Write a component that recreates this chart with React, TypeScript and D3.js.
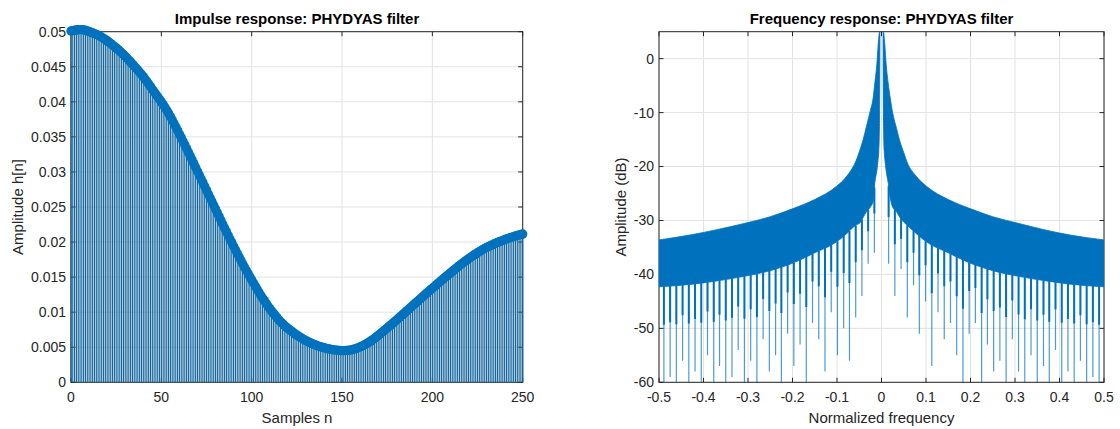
import React from "react";
import * as d3 from "d3";

// ---------- Impulse response data (samples n = 0..250) ----------
const impulse: number[] = [
  0.05010, 0.05015, 0.05020, 0.05025, 0.05028, 0.05030, 0.05029, 0.05026, 0.05020, 0.05011, 0.05002,
  0.04993, 0.04983, 0.04973, 0.04962, 0.04950, 0.04936, 0.04921, 0.04905, 0.04888, 0.04870,
  0.04851, 0.04831, 0.04811, 0.04790, 0.04770, 0.04747, 0.04724, 0.04700, 0.04676, 0.04650,
  0.04623, 0.04595, 0.04567, 0.04539, 0.04510, 0.04481, 0.04451, 0.04421, 0.04391, 0.04360,
  0.04325, 0.04290, 0.04254, 0.04218, 0.04180, 0.04144, 0.04108, 0.04072, 0.04036, 0.04000,
  0.03960, 0.03920, 0.03880, 0.03836, 0.03790, 0.03742, 0.03693, 0.03643, 0.03592, 0.03540,
  0.03489, 0.03437, 0.03385, 0.03333, 0.03280, 0.03226, 0.03172, 0.03118, 0.03064, 0.03010,
  0.02956, 0.02902, 0.02848, 0.02794, 0.02740, 0.02686, 0.02632, 0.02578, 0.02524, 0.02470,
  0.02416, 0.02362, 0.02308, 0.02254, 0.02200, 0.02148, 0.02096, 0.02044, 0.01992, 0.01940,
  0.01890, 0.01840, 0.01790, 0.01740, 0.01690, 0.01644, 0.01598, 0.01552, 0.01506, 0.01460,
  0.01416, 0.01372, 0.01328, 0.01284, 0.01240, 0.01202, 0.01164, 0.01126, 0.01088, 0.01050,
  0.01018, 0.00986, 0.00954, 0.00922, 0.00890, 0.00864, 0.00838, 0.00814, 0.00791, 0.00769,
  0.00749, 0.00729, 0.00710, 0.00691, 0.00673, 0.00656, 0.00640, 0.00624, 0.00609, 0.00595,
  0.00582, 0.00569, 0.00557, 0.00546, 0.00535, 0.00525, 0.00516, 0.00508, 0.00500, 0.00493,
  0.00486, 0.00480, 0.00474, 0.00469, 0.00465, 0.00461, 0.00458, 0.00455, 0.00453, 0.00452,
  0.00452, 0.00453, 0.00455, 0.00458, 0.00462, 0.00468, 0.00475, 0.00483, 0.00492, 0.00503,
  0.00515, 0.00528, 0.00542, 0.00557, 0.00573, 0.00590, 0.00608, 0.00627, 0.00647, 0.00668,
  0.00689, 0.00710, 0.00731, 0.00753, 0.00775, 0.00797, 0.00819, 0.00841, 0.00863, 0.00885,
  0.00907, 0.00930, 0.00953, 0.00976, 0.00999, 0.01022, 0.01045, 0.01068, 0.01091, 0.01114,
  0.01137, 0.01160, 0.01183, 0.01206, 0.01229, 0.01252, 0.01275, 0.01298, 0.01320, 0.01342,
  0.01363, 0.01386, 0.01409, 0.01431, 0.01453, 0.01475, 0.01497, 0.01518, 0.01539, 0.01560,
  0.01582, 0.01603, 0.01624, 0.01645, 0.01665, 0.01685, 0.01705, 0.01724, 0.01743, 0.01762,
  0.01780, 0.01798, 0.01815, 0.01832, 0.01848, 0.01864, 0.01879, 0.01894, 0.01908, 0.01922,
  0.01935, 0.01948, 0.01960, 0.01972, 0.01983, 0.01994, 0.02004, 0.02014, 0.02024, 0.02034,
  0.02044, 0.02053, 0.02062, 0.02070, 0.02078, 0.02086, 0.02093, 0.02100, 0.02107, 0.02114,
];
const impXTicks = [0, 50, 100, 150, 200, 250];
const impYTicks = [0, 0.005, 0.01, 0.015, 0.02, 0.025, 0.03, 0.035, 0.04, 0.045, 0.05];
const impYTickLabels = ["0", "0.005", "0.01", "0.015", "0.02", "0.025", "0.03", "0.035", "0.04", "0.045", "0.05"];

// ---------- Frequency response data (dB) ----------
const envFreqLeft = [-0.5, -0.424, -0.37, -0.311, -0.25, -0.199, -0.15, -0.1016, -0.0791, -0.0566, -0.048, -0.0416, -0.034, -0.025, -0.019, -0.015, -0.01, -0.008, -0.006, -0.0045, -0.0035];
const envUpperLeft = [-33.6, -32.6, -31.7, -30.6, -29.3, -27.8, -26.1, -23.7, -21.9, -18.8, -16.8, -15.1, -12.6, -9.6, -7.4, -4.5, -0.5, 2, 4, 5, 5];
const envLowerLeft = [-42.3, -41.8, -41.2, -40.4, -39.3, -37.9, -36, -34, -32.5, -30.8, -30.4, -29.5, -28.4, -27.5, -26.5, -23, -20.5, -19, -17, -12, 5];

const envFreqRight = [0.0035, 0.0045, 0.006, 0.008, 0.01, 0.015, 0.02, 0.025, 0.034, 0.0416, 0.05, 0.0566, 0.0791, 0.1016, 0.15, 0.199, 0.25, 0.311, 0.37, 0.424, 0.5];
const envUpperRight = [5, 5, 4, 2, -0.5, -4.5, -7.5, -10, -13, -15.4, -17.4, -19, -21.9, -23.7, -26.1, -27.8, -29.3, -30.6, -31.8, -32.7, -33.6];
const envLowerRight = [5, -12, -17, -19, -20.5, -23, -26, -27.5, -28.4, -29.5, -30.3, -30.8, -32.5, -34, -36, -37.9, -39.3, -40.4, -41.2, -41.8, -42.3];

const nullFreqRight = [0.016, 0.030, 0.044, 0.058, 0.072, 0.085, 0.099, 0.113, 0.127, 0.141, 0.155, 0.169, 0.183, 0.197, 0.211, 0.225, 0.238, 0.252, 0.266, 0.280, 0.294, 0.308, 0.322, 0.336, 0.350, 0.364, 0.377, 0.391, 0.405, 0.419, 0.433, 0.447, 0.461, 0.475, 0.489];
const nullDepthRight = [-38, -44, -39, -48, -42, -51, -45, -57, -47, -52, -49, -55, -60, -51, -49, -60, -53, -58, -56, -60, -52, -58, -60, -55, -60, -57, -60, -54, -60, -58, -60, -56, -60, -59, -60];
const nullFreqLeft = [-0.016, -0.030, -0.044, -0.058, -0.072, -0.085, -0.099, -0.113, -0.127, -0.141, -0.155, -0.169, -0.183, -0.197, -0.211, -0.225, -0.238, -0.252, -0.266, -0.280, -0.294, -0.308, -0.322, -0.336, -0.350, -0.364, -0.377, -0.391, -0.405, -0.419, -0.433, -0.447, -0.461, -0.475, -0.489];
const nullDepthLeft = [-36, -38, -44, -48, -56, -50, -55, -47, -58, -52, -49, -60, -53, -57, -51, -60, -55, -58, -52, -60, -56, -60, -54, -59, -60, -57, -60, -55, -60, -58, -60, -56, -60, -59, -60];

const frqXTicks = [-0.5, -0.4, -0.3, -0.2, -0.1, 0, 0.1, 0.2, 0.3, 0.4, 0.5];
const frqXTickLabels = ["-0.5", "-0.4", "-0.3", "-0.2", "-0.1", "0", "0.1", "0.2", "0.3", "0.4", "0.5"];
const frqYTicks = [-60, -50, -40, -30, -20, -10, 0];

const BLUE = "#0072BD";
const STEM = "#16679d";
const AX = "#262626";
const GRID = "#e3e3e3";
const FONT = "'Liberation Sans', Arial, Helvetica, sans-serif";

export default function App() {
  // Left panel
  const lx = d3.scaleLinear().domain([0, 250]).range([71, 522.7]);
  const ly = d3.scaleLinear().domain([0, 0.05]).range([382.3, 31.7]);
  // Right panel
  const rx = d3.scaleLinear().domain([-0.5, 0.5]).range([659, 1104]);
  const ry = d3.scaleLinear().domain([-60, 5]).range([382.3, 31.7]);

  const leftArea = d3
    .area<number>()
    .x((_, i) => rx(envFreqLeft[i]))
    .y0((_, i) => ry(envLowerLeft[i]))
    .y1((_, i) => ry(envUpperLeft[i]))
    .curve(d3.curveMonotoneX)(envFreqLeft);
  const rightArea = d3
    .area<number>()
    .x((_, i) => rx(envFreqRight[i]))
    .y0((_, i) => ry(envLowerRight[i]))
    .y1((_, i) => ry(envUpperRight[i]))
    .curve(d3.curveMonotoneX)(envFreqRight);

  const lowerL = d3.scaleLinear().domain(envFreqLeft).range(envLowerLeft);
  const lowerR = d3.scaleLinear().domain(envFreqRight).range(envLowerRight);

  const spikes = [
    ...nullFreqLeft.map((f, i) => ({ f, d: nullDepthLeft[i], top: lowerL(f) })),
    ...nullFreqRight.map((f, i) => ({ f, d: nullDepthRight[i], top: lowerR(f) })),
  ];

  const textStyle = { fontFamily: FONT, fill: AX } as const;

  return (
    <svg
      width={1120}
      height={429}
      style={{ position: "absolute", left: 0, top: 0, background: "#fff" }}
    >
      <rect x={0} y={0} width={1120} height={429} fill="#fff" />
      <defs>
        <clipPath id="clipR">
          <rect x={659} y={31.7} width={445} height={350.6} />
        </clipPath>
      </defs>

      {/* ===== Left panel ===== */}
      <g>
        {impXTicks.map((t) => (
          <line key={"lgx" + t} x1={lx(t)} x2={lx(t)} y1={31.7} y2={382.3} stroke={GRID} strokeWidth={1} />
        ))}
        {impYTicks.map((t) => (
          <line key={"lgy" + t} x1={71} x2={522.7} y1={ly(t)} y2={ly(t)} stroke={GRID} strokeWidth={1} />
        ))}
        <rect x={71} y={31.7} width={451.7} height={350.6} fill="none" stroke={AX} strokeWidth={1} />
        {impXTicks.map((t) => (
          <g key={"ltx" + t}>
            <line x1={lx(t)} x2={lx(t)} y1={382.3} y2={377.8} stroke={AX} />
            <line x1={lx(t)} x2={lx(t)} y1={31.7} y2={36.2} stroke={AX} />
          </g>
        ))}
        {impYTicks.map((t) => (
          <g key={"lty" + t}>
            <line x1={71} x2={75.5} y1={ly(t)} y2={ly(t)} stroke={AX} />
            <line x1={522.7} x2={518.2} y1={ly(t)} y2={ly(t)} stroke={AX} />
          </g>
        ))}
        {impulse.map((v, i) => (
          <line key={"st" + i} x1={lx(i)} x2={lx(i)} y1={ly(0)} y2={ly(v)} stroke={STEM} strokeWidth={1.2} />
        ))}
        {impulse.map((v, i) => (
          <circle key={"mk" + i} cx={lx(i)} cy={ly(v)} r={4.7} fill={BLUE} />
        ))}
        {impXTicks.map((t) => (
          <text key={"lxl" + t} x={lx(t)} y={402} textAnchor="middle" fontSize={14} style={textStyle}>
            {t}
          </text>
        ))}
        {impYTicks.map((t, i) => (
          <text key={"lyl" + t} x={66} y={ly(t)} dy="0.35em" textAnchor="end" fontSize={14} style={textStyle}>
            {impYTickLabels[i]}
          </text>
        ))}
        <text x={297} y={24} textAnchor="middle" fontSize={15} fontWeight="bold" style={{ fontFamily: FONT, fill: "#000" }}>
          Impulse response: PHYDYAS filter
        </text>
        <text x={297} y={423} textAnchor="middle" fontSize={15} style={textStyle}>
          Samples n
        </text>
        <text transform="translate(23,207) rotate(-90)" textAnchor="middle" fontSize={15} style={textStyle}>
          Amplitude h[n]
        </text>
      </g>

      {/* ===== Right panel ===== */}
      <g>
        {frqXTicks.map((t) => (
          <line key={"rgx" + t} x1={rx(t)} x2={rx(t)} y1={31.7} y2={382.3} stroke={GRID} strokeWidth={1} />
        ))}
        {frqYTicks.map((t) => (
          <line key={"rgy" + t} x1={659} x2={1104} y1={ry(t)} y2={ry(t)} stroke={GRID} strokeWidth={1} />
        ))}
        <rect x={659} y={31.7} width={445} height={350.6} fill="none" stroke={AX} strokeWidth={1} />
        {frqXTicks.map((t) => (
          <g key={"rtx" + t}>
            <line x1={rx(t)} x2={rx(t)} y1={382.3} y2={377.8} stroke={AX} />
            <line x1={rx(t)} x2={rx(t)} y1={31.7} y2={36.2} stroke={AX} />
          </g>
        ))}
        {frqYTicks.map((t) => (
          <g key={"rty" + t}>
            <line x1={659} x2={663.5} y1={ry(t)} y2={ry(t)} stroke={AX} />
            <line x1={1104} x2={1099.5} y1={ry(t)} y2={ry(t)} stroke={AX} />
          </g>
        ))}
        <g clipPath="url(#clipR)">
          <path d={leftArea ?? ""} fill={BLUE} stroke={BLUE} strokeWidth={0.8} />
          <path d={rightArea ?? ""} fill={BLUE} stroke={BLUE} strokeWidth={0.8} />
          {spikes.map((s, i) => (
            <g key={"sp" + i}>
              <line x1={rx(s.f)} x2={rx(s.f)} y1={ry(s.top)} y2={ry(s.d)} stroke={BLUE} strokeOpacity={0.7} strokeWidth={1.2} />
              <line x1={rx(s.f)} x2={rx(s.f)} y1={ry(s.top)} y2={ry(s.top - (s.top - s.d) * 0.4)} stroke={BLUE} strokeWidth={2} />
            </g>
          ))}
        </g>
        {frqXTicks.map((t, i) => (
          <text key={"rxl" + t} x={rx(t)} y={402} textAnchor="middle" fontSize={14} style={textStyle}>
            {frqXTickLabels[i]}
          </text>
        ))}
        {frqYTicks.map((t) => (
          <text key={"ryl" + t} x={654} y={ry(t)} dy="0.35em" textAnchor="end" fontSize={14} style={textStyle}>
            {t}
          </text>
        ))}
        <text x={881.5} y={24} textAnchor="middle" fontSize={15} fontWeight="bold" style={{ fontFamily: FONT, fill: "#000" }}>
          Frequency response: PHYDYAS filter
        </text>
        <text x={881.5} y={423} textAnchor="middle" fontSize={15} style={textStyle}>
          Normalized frequency
        </text>
        <text transform="translate(626,207) rotate(-90)" textAnchor="middle" fontSize={15} style={textStyle}>
          Amplitude (dB)
        </text>
      </g>
    </svg>
  );
}
